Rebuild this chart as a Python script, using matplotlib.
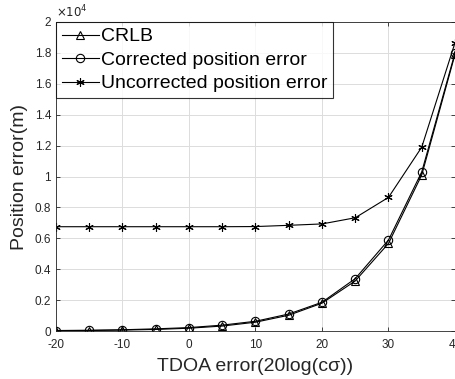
import matplotlib
matplotlib.use("Agg")
import matplotlib.pyplot as plt
from matplotlib.ticker import FuncFormatter

# x: TDOA error in dB, y: position error in units of 1e4 m
tdoa_db = [-20, -15, -10, -5, 0, 5, 10, 15, 20, 25, 30, 35, 40]
crlb = [0.002, 0.003, 0.006, 0.010, 0.018, 0.032, 0.057, 0.102, 0.180, 0.324, 0.567, 1.010, 1.790]
corrected = [0.003, 0.005, 0.008, 0.014, 0.022, 0.038, 0.063, 0.110, 0.186, 0.339, 0.589, 1.030, 1.800]
uncorrected = [0.675, 0.675, 0.675, 0.675, 0.675, 0.675, 0.676, 0.684, 0.693, 0.733, 0.865, 1.190, 1.866]

plt.rcParams["font.family"] = ["Liberation Sans", "DejaVu Sans"]
plt.rcParams["axes.unicode_minus"] = False

fig = plt.figure(figsize=(4.56, 3.79), dpi=100)
ax = fig.add_axes([56 / 456, 1 - 331 / 379, 399 / 456, 309 / 379])

style = dict(color="black", linewidth=0.8, markerfacecolor="none",
             markeredgecolor="black", markeredgewidth=0.8)
ax.plot(tdoa_db, crlb, marker="^", markersize=6, label="CRLB", **style)
ax.plot(tdoa_db, corrected, marker="o", markersize=6, label="Corrected position error", **style)
ax.plot(tdoa_db, uncorrected, marker=(6, 2, 0), markersize=6,
        label="Uncorrected position error", **style)

ax.set_xlim(-20, 40)
ax.set_ylim(0, 2)
ax.set_xticks(range(-20, 41, 10))
ax.set_yticks([i * 0.2 for i in range(11)])
ax.yaxis.set_major_formatter(FuncFormatter(lambda v, p: f"{v:g}"))
ax.grid(True, color="#dcdcdc", linewidth=0.7)
ax.set_axisbelow(True)
ax.tick_params(direction="in", top=True, right=True, labelsize=8.5,
               colors="#262626", length=3, width=0.6)
ax.tick_params(axis="x", pad=6)
for s in ax.spines.values():
    s.set_color("#262626")
    s.set_linewidth(0.6)

ax.text(0.0, 1.005, r"$\times10^{4}$", transform=ax.transAxes, fontsize=8.5,
        color="#262626", ha="left", va="bottom")

ax.set_xlabel("TDOA error(20log(cσ))", fontsize=14, color="#262626", labelpad=5)
ax.set_ylabel("Position error(m)", fontsize=14, color="#262626", labelpad=5)

leg = ax.legend(loc="upper left", fontsize=14, frameon=True, fancybox=False,
                borderaxespad=0, handlelength=1.9, handletextpad=0.1,
                borderpad=0.3, labelspacing=0.3)
leg.get_frame().set_edgecolor("black")
leg.get_frame().set_linewidth(0.8)

fig.savefig("out.png", dpi=100)
